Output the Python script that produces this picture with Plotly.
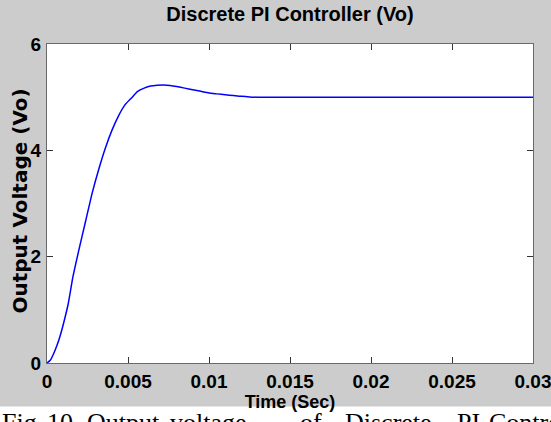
import plotly.graph_objects as go

# Data
time_s = [0, 0.0002, 0.0004, 0.0006, 0.0008, 0.001, 0.0013, 0.0016, 0.002, 0.0024,
          0.0028, 0.0032, 0.0036, 0.004, 0.0044, 0.0048, 0.0052, 0.0056, 0.006, 0.0064,
          0.0068, 0.0072, 0.0076, 0.008, 0.0085, 0.009, 0.0095, 0.01, 0.0105, 0.011,
          0.0115, 0.012, 0.0125, 0.013, 0.015, 0.02, 0.025, 0.03]
vo = [0, 0.05, 0.17, 0.32, 0.5, 0.72, 1.1, 1.62, 2.17, 2.69,
      3.21, 3.65, 4.04, 4.37, 4.64, 4.85, 4.98, 5.11, 5.17, 5.21,
      5.225, 5.23, 5.22, 5.2, 5.17, 5.14, 5.11, 5.08, 5.062, 5.045,
      5.03, 5.015, 5.005, 5.0, 5.0, 5.0, 5.0, 5.0]

x_ticks = [0, 0.005, 0.01, 0.015, 0.02, 0.025, 0.03]
x_tick_labels = ["0", "0.005", "0.01", "0.015", "0.02", "0.025", "0.03"]
y_ticks = [0, 2, 4, 6]
y_tick_labels = ["0", "2", "4", "6"]

chart_title = "Discrete PI Controller (Vo)"
x_title = "Time (Sec)"
y_title = "Output Voltage (Vo)"
caption_words = ["Fig.", "10.", "Output", "voltage", "of", "Discrete", "PI", "Controller"]
caption_px = [0, 45, 85, 168, 298, 343, 455, 487]

SANS = "Liberation Sans, Arial, sans-serif"
W, H = 551, 422
L, R, T, B = 47, 18, 44, 59
pw, ph = W - L - R, H - T - B

fig = go.Figure()
fig.add_trace(go.Scatter(x=time_s, y=vo, mode="lines",
                         line=dict(color="#0000ff", width=1.5, shape="spline", smoothing=0.6),
                         showlegend=False, hoverinfo="skip"))

axis_common = dict(showgrid=False, zeroline=False, showline=True, linecolor="#6a6a6a",
                   linewidth=1, mirror="ticks", ticks="inside", ticklen=6, tickwidth=1,
                   tickcolor="#333333", ticklabeloverflow="allow",
                   tickfont=dict(family=SANS, size=19, color="#000000", weight="bold"))

fig.update_xaxes(range=[0, 0.03], tickvals=x_ticks, ticktext=x_tick_labels,
                 ticklabelstandoff=1,
                 title=dict(text=x_title, font=dict(family=SANS, size=18, color="#000", weight="bold"),
                            standoff=0),
                 **axis_common)
fig.update_yaxes(range=[0, 6], tickvals=y_ticks, ticktext=y_tick_labels,
                 ticklabelstandoff=1, **axis_common)

# y-axis title placed precisely beside the tick labels
fig.add_annotation(text=y_title, textangle=-90, xref="paper", yref="paper",
                   x=(19 - L) / pw, xanchor="center", y=(H - B - 201.5) / ph, yanchor="middle",
                   showarrow=False,
                   font=dict(family="DejaVu Sans, Verdana, sans-serif", size=20, color="#000", weight="bold"))

# white strip at bottom holding the (cropped) figure caption
fig.add_shape(type="rect", xref="paper", yref="paper", x0=-1, x1=2, y0=-1,
              y1=(H - B - 406.5) / ph, fillcolor="#ffffff", line=dict(width=0), layer="below")
for w, px in zip(caption_words, caption_px):
    fig.add_annotation(text=w, xref="paper", yref="paper", x=(px - L) / pw, xanchor="left",
                       y=(H - B - 406) / ph, yanchor="top", showarrow=False,
                       font=dict(family="Liberation Serif, Times New Roman, serif", size=26, color="#000"))

fig.update_layout(
    width=W, height=H, margin=dict(l=L, r=R, t=T, b=B, autoexpand=False),
    paper_bgcolor="#cccccc", plot_bgcolor="#ffffff",
    title=dict(text=chart_title, x=0.5, xanchor="center", xref="paper",
               y=(H - 14) / H, yanchor="middle",
               font=dict(family=SANS, size=20, color="#000", weight="bold")),
)

fig.write_html("out.html", config={"displayModeBar": False},
               post_script="document.body.style.margin='0';document.body.style.overflow='hidden';")
